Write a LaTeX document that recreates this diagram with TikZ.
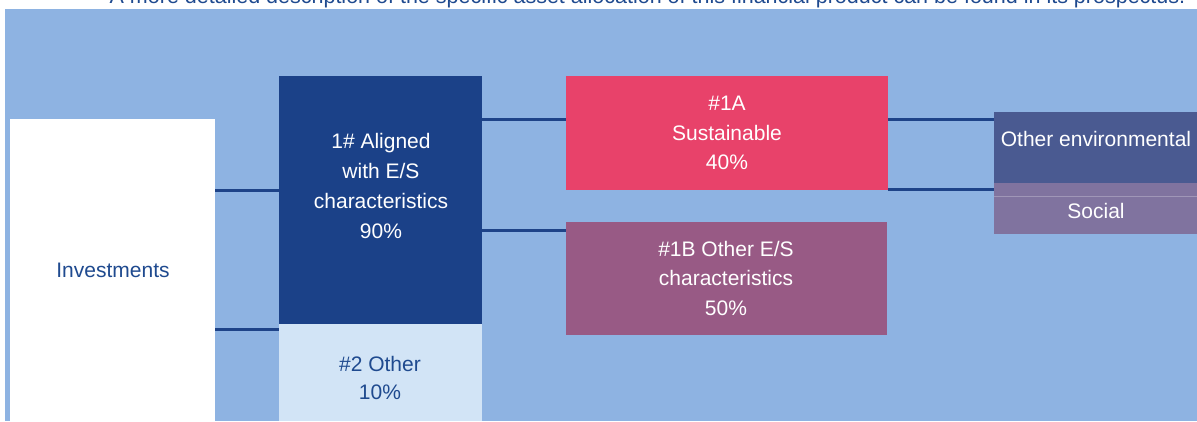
\documentclass[tikz,border=0pt]{standalone}
\usepackage{fontspec}
\setmainfont{Liberation Sans}
\definecolor{bgblue}{HTML}{8EB3E2}
\definecolor{darkbox}{HTML}{1B4188}
\definecolor{pinkbox}{HTML}{E8426A}
\definecolor{purplebox}{HTML}{985A85}
\definecolor{envbox}{HTML}{4A5A91}
\definecolor{socbox}{HTML}{80739F}
\definecolor{lightbox}{HTML}{D2E4F6}
\definecolor{txtblue}{HTML}{1F4A8F}
\definecolor{linecol}{HTML}{1E4388}
\tikzset{
  box/.style={draw=none, inner sep=0pt, outer sep=0pt, anchor=north west},
  conn/.style={draw=linecol, line width=3pt},
  lbl/.style={align=center, inner sep=0pt, font=\fontsize{21}{29.5}\selectfont},
}
\begin{document}
\begin{tikzpicture}[x=1pt,y=-1pt]
\useasboundingbox (0,0) rectangle (1197,421);
\begin{scope}
\clip (0,0) rectangle (1197,421);
\fill[bgblue] (5,9) rectangle (1197,421);
\node[anchor=base, inner sep=0pt, text=txtblue, font=\fontsize{21.5}{24}\selectfont] (title) at (647.5,3.5)
  {A more detailed description of the specific asset allocation of this financial product can be found in its prospectus.};
% boxes
\node[box, fill=white, minimum width=205pt, minimum height=302pt] (inv) at (10,119) {};
\node[box, fill=darkbox, minimum width=203pt, minimum height=248pt] (al) at (279,76) {};
\node[box, fill=lightbox, minimum width=203pt, minimum height=97pt] (oth) at (279,324) {};
\node[box, fill=pinkbox, minimum width=322pt, minimum height=114pt] (sus) at (566,76) {};
\node[box, fill=purplebox, minimum width=321pt, minimum height=113pt] (obs) at (566,222) {};
\node[box, fill=envbox, minimum width=203pt, minimum height=71pt] (env) at (994,112) {};
\node[box, fill=socbox, minimum width=203pt, minimum height=51pt] (soc) at (994,183) {};
\draw[white!25!socbox, line width=0.8pt] (soc.west |- 0,196) -- (soc.east |- 0,196);
% connectors
\draw[conn] (inv.east |- 0,190) -- (al.west |- 0,190);
\draw[conn] (inv.east |- 0,329) -- (al.west |- 0,329);
\draw[conn] (al.east |- 0,119) -- (sus.west |- 0,119);
\draw[conn] (al.east |- 0,230) -- (obs.west |- 0,230);
\draw[conn] (sus.east |- 0,119) -- (env.west |- 0,119);
\draw[conn] (sus.east |- 0,189) -- (env.west |- 0,189);
% labels
\node[lbl, text=txtblue] (invT) at (113,270) {Investments};
\node[lbl, text=white, font=\fontsize{21}{30.3}\selectfont] (alT) at (381,186) {1\# Aligned\\with E/S\\characteristics\\90\%};
\node[lbl, text=txtblue, font=\fontsize{21}{28.5}\selectfont] (othT) at (380,378) {\#2 Other\\10\%};
\node[lbl, text=white] (susT) at (727,133) {\#1A\\Sustainable\\40\%};
\node[lbl, text=white] (obsT) at (726,278) {\#1B Other E/S\\characteristics\\50\%};
\node[lbl, text=white] (envT) at (1096,139) {Other environmental};
\node[lbl, text=white] (socT) at (1096,211) {Social};
\end{scope}
\end{tikzpicture}
\end{document}
